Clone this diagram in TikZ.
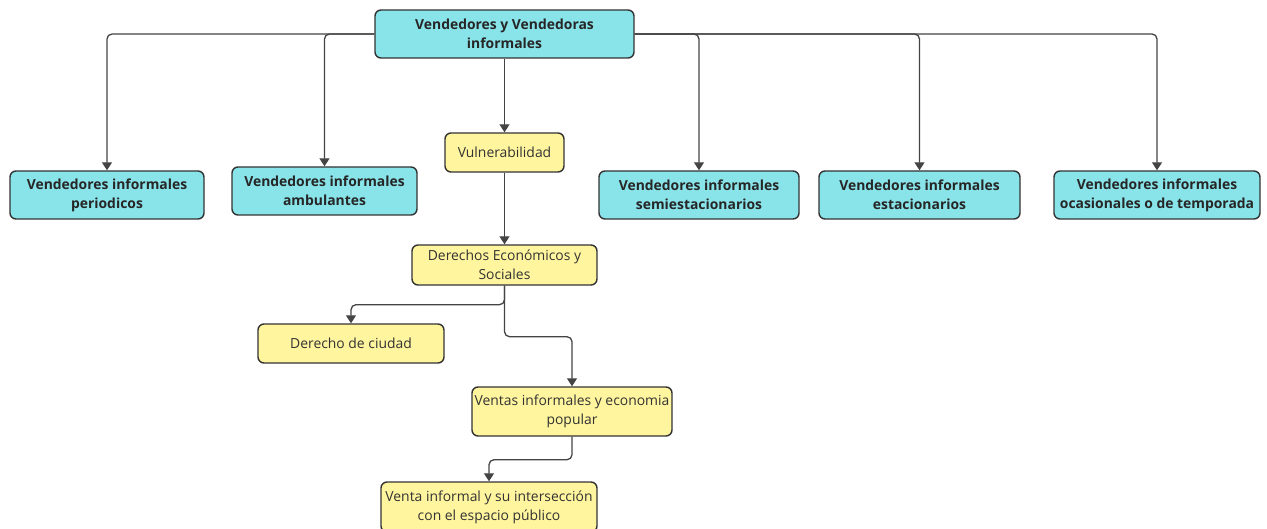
\documentclass[tikz,border=0pt]{standalone}
\usepackage{fontspec}
\setmainfont{Open Sans}
\usetikzlibrary{arrows.meta,calc}
\definecolor{cyanfill}{RGB}{137,228,234}
\definecolor{yelfill}{RGB}{255,245,158}
\definecolor{edge}{RGB}{51,51,51}
\definecolor{wire}{RGB}{68,68,68}
\tikzset{
  box/.style={draw=edge, line width=1.4pt, rounded corners=6pt, align=center, inner sep=0pt},
  cbox/.style={box, fill=cyanfill, font=\fontsize{13.9}{19}\selectfont\bfseries, text=black!85},
  ybox/.style={box, fill=yelfill, font=\fontsize{13.9}{19}\selectfont, text=black!80},
  arr/.style={draw=wire, line width=1.3pt, rounded corners=5pt, -{Triangle[length=8pt,width=10pt]}},
}
\begin{document}
\begin{tikzpicture}[x=1pt,y=-1pt]
\useasboundingbox (0,0) rectangle (1267,529);
\node[cbox, minimum width=259pt, minimum height=48pt] (top) at (504.5,34) {Vendedores y Vendedoras\\informales};
\node[cbox, minimum width=194pt, minimum height=48pt] (per) at (107,195) {Vendedores informales\\periodicos};
\node[cbox, minimum width=185pt, minimum height=48pt] (amb) at (324.5,191) {Vendedores informales\\ambulantes};
\node[ybox, minimum width=119pt, minimum height=39pt] (vul) at (504.5,152.5) {Vulnerabilidad};
\node[cbox, minimum width=200pt, minimum height=48pt] (semi) at (699,195) {Vendedores informales\\semiestacionarios};
\node[cbox, minimum width=201pt, minimum height=48pt] (est) at (919.5,195) {Vendedores informales\\estacionarios};
\node[cbox, minimum width=206pt, minimum height=48pt] (oca) at (1157,195) {Vendedores informales\\ocasionales o de temporada};
\node[ybox, minimum width=185pt, minimum height=40pt] (der) at (504.5,265) {Derechos Económicos y\\Sociales};
\node[ybox, minimum width=186pt, minimum height=39pt] (ciu) at (351,343.5) {Derecho de ciudad};
\node[ybox, minimum width=200pt, minimum height=49pt] (ven) at (572,411.5) {Ventas informales y economia\\popular};
\node[ybox, minimum width=216pt, minimum height=50pt] (vin) at (489,507) {Venta informal y su intersección\\con el espacio público};

\draw[arr] (top.west) -| (per.north);
\draw[arr] (top.west) -| (amb.north);
\draw[arr] (top.south) -- (vul.north);
\draw[arr] (top.east) -| (semi.north);
\draw[arr] (top.east) -| (est.north);
\draw[arr] (top.east) -| (oca.north);
\draw[arr] (vul.south) -- (der.north);
\draw[arr] (der.south) -- ++(0,19) -| (ciu.north);
\draw[arr] (der.south) -- ++(0,51) -| (ven.north);
\draw[arr] (ven.south) -- ++(0,23) -| (vin.north);
\end{tikzpicture}
\end{document}
